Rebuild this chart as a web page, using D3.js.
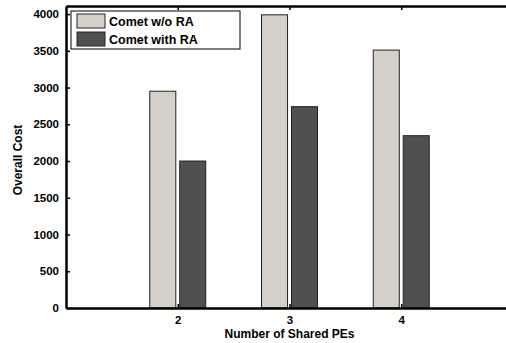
<!DOCTYPE html>
<html>
<head>
<meta charset="utf-8">
<script src="https://cdn.jsdelivr.net/npm/d3@7"></script>
<style>
  body { margin: 0; background: #fff; }
  text { font-family: "Liberation Sans", Arial, sans-serif; font-weight: bold; }
</style>
</head>
<body>
<script>
// data
const categories = [2, 3, 4];
const withoutRA = [2950, 3990, 3510];
const withRA = [2000, 2740, 2345];
const seriesNames = ["Comet w/o RA", "Comet with RA"];
const yTicks = [0, 500, 1000, 1500, 2000, 2500, 3000, 3500, 4000];

const width = 506, height = 343;
const plotLeft = 66, plotTop = 6, plotBottom = 308;

const svg = d3.select("body").append("svg")
    .attr("width", width)
    .attr("height", height);

// x axis runs 1..5, the right part is cut off by the picture
const x = d3.scaleLinear().domain([1, 5]).range([plotLeft, 513]);
const y = d3.scaleLinear().domain([0, 4110]).range([plotBottom, plotTop]);

const barW = 0.233, off = 0.134;
const colors = ["#d4d0c8", "#505050"];

const series = [withoutRA, withRA];
series.forEach((vals, s) => {
    svg.selectAll("rect.s" + s)
        .data(categories)
        .enter()
        .append("rect")
            .attr("class", "s" + s)
            .attr("x", (d, i) => x(d + (s === 0 ? -off : off) - barW / 2))
            .attr("width", x(1 + barW) - x(1))
            .attr("y", (d, i) => y(vals[i]))
            .attr("height", (d, i) => plotBottom - y(vals[i]))
            .attr("fill", colors[s])
            .attr("stroke", "#222")
            .attr("stroke-width", 1);
});

// axes, ticks pointing inward like matlab
const yAxis = d3.axisLeft(y).tickValues(yTicks).tickFormat(d3.format("d"))
    .tickSizeInner(-4).tickSizeOuter(0).tickPadding(7);
const gy = svg.append("g").attr("transform", `translate(${plotLeft},0)`).call(yAxis);
gy.selectAll("text").style("font-size", "11.5px").attr("fill", "#000");

const xAxis = d3.axisBottom(x).tickValues(categories).tickFormat(d3.format("d"))
    .tickSizeInner(-4).tickSizeOuter(0).tickPadding(8);
const gx = svg.append("g").attr("transform", `translate(0,${plotBottom})`).call(xAxis);
gx.selectAll("text").style("font-size", "11.5px").attr("fill", "#000");

const xTop = d3.axisTop(x).tickValues(categories).tickSizeInner(-4).tickSizeOuter(0).tickFormat("");
svg.append("g").attr("transform", `translate(0,${plotTop})`).call(xTop);

svg.selectAll(".domain").attr("stroke-width", 2.5).attr("stroke", "#000");
svg.selectAll(".tick line").attr("stroke", "#000").attr("stroke-width", 1.5);

// labels
svg.append("text")
    .attr("x", x(3))
    .attr("y", 338)
    .attr("text-anchor", "middle")
    .style("font-size", "12px")
    .text("Number of Shared PEs");

svg.append("text")
    .attr("transform", "translate(22,160) rotate(-90)")
    .attr("text-anchor", "middle")
    .style("font-size", "12px")
    .text("Overall Cost");

// legend
const lg = svg.append("g");
lg.append("rect")
    .attr("x", 71).attr("y", 11)
    .attr("width", 169).attr("height", 38)
    .attr("fill", "#fff").attr("stroke", "#000").attr("stroke-width", 1);
seriesNames.forEach((name, i) => {
    lg.append("rect")
        .attr("x", 77).attr("y", 14 + i * 18)
        .attr("width", 28).attr("height", 14)
        .attr("fill", colors[i]).attr("stroke", "#222");
    lg.append("text")
        .attr("x", 109).attr("y", 26 + i * 18)
        .style("font-size", "12.5px")
        .text(name);
});
</script>
</body>
</html>
